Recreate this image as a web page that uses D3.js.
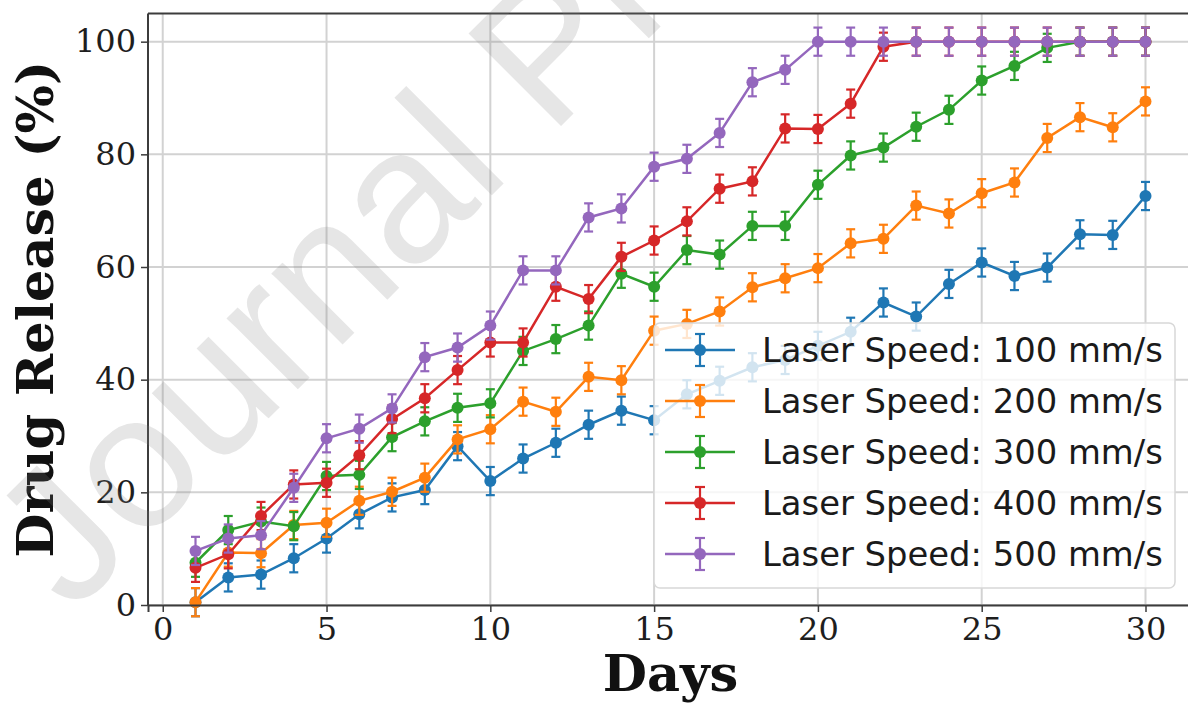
<!DOCTYPE html>
<html>
<head>
<meta charset="utf-8">
<script src="https://cdn.jsdelivr.net/npm/d3@7"></script>
<style>
  body { margin: 0; background: #fff; }
</style>
</head>
<body>
<script>
// chart data
var days = d3.range(1, 31);
var speeds = ['Laser Speed: 100 mm/s', 'Laser Speed: 200 mm/s', 'Laser Speed: 300 mm/s', 'Laser Speed: 400 mm/s', 'Laser Speed: 500 mm/s'];
var colors = ['#1f77b4', '#ff7f0e', '#2ca02c', '#d62728', '#9467bd'];

var speed100 = [0.5, 4.9, 5.4, 8.3, 11.8, 16.1, 19.1, 20.4, 28.2, 22.0, 26.0, 28.8, 32.0, 34.5, 32.8,
    37.4, 39.8, 42.2, 43.5, 46.0, 48.5, 53.7, 51.2, 57.0, 60.8, 58.4, 59.9, 65.8, 65.7, 72.6];
var speed200 = [0.5, 9.3, 9.2, 14.2, 14.6, 18.5, 20.1, 22.6, 29.4, 31.2, 36.1, 34.3, 40.5, 39.9, 48.7,
    49.9, 52.1, 56.4, 58.0, 59.8, 64.2, 65.0, 70.9, 69.5, 73.1, 75.0, 82.9, 86.6, 84.8, 89.4];
var speed300 = [7.5, 13.3, 14.8, 14.0, 22.9, 23.1, 29.8, 32.6, 35.0, 35.8, 45.1, 47.2, 49.6, 58.8, 56.5,
    63.0, 62.2, 67.3, 67.3, 74.6, 79.8, 81.2, 84.9, 87.9, 93.1, 95.7, 98.9, 100, 100, 100];
var speed400 = [6.6, 9.0, 15.8, 21.4, 21.7, 26.6, 33.0, 36.7, 41.7, 46.6, 46.6, 56.5, 54.3, 61.8, 64.7,
    68.1, 73.9, 75.2, 84.6, 84.5, 89.0, 99.1, 100, 100, 100, 100, 100, 100, 100, 100];
var speed500 = [9.6, 11.8, 12.4, 20.8, 29.6, 31.3, 34.9, 44.0, 45.7, 49.6, 59.4, 59.4, 68.8, 70.4, 77.8,
    79.2, 83.8, 92.8, 95.0, 100, 100, 100, 100, 100, 100, 100, 100, 100, 100, 100];
var errors = [2.5, 2.5, 2.5, 2.5, 2.5];

var xTicks = [0, 5, 10, 15, 20, 25, 30];
var yTicks = [0, 20, 40, 60, 80, 100];

var series = [speed100, speed200, speed300, speed400, speed500];

var svg = d3.select('body').append('svg')
    .attr('width', 1188)
    .attr('height', 704);

svg.append('rect')
    .attr('width', 1188)
    .attr('height', 704)
    .attr('fill', 'white');

var plotLeft = 148, plotRight = 1193, plotTop = 13.5, plotBottom = 605;

var x = d3.scaleLinear().domain([-0.45, 31.45]).range([plotLeft, plotRight]);
var y = d3.scaleLinear().domain([0, 105]).range([plotBottom, plotTop]);

// grid
svg.append('g').selectAll('line')
    .data(xTicks)
    .join('line')
    .attr('x1', d => x(d))
    .attr('x2', d => x(d))
    .attr('y1', plotTop)
    .attr('y2', plotBottom)
    .attr('stroke', '#d2d2d2')
    .attr('stroke-width', 2);

svg.append('g').selectAll('line')
    .data(yTicks)
    .join('line')
    .attr('x1', plotLeft)
    .attr('x2', plotRight)
    .attr('y1', d => y(d))
    .attr('y2', d => y(d))
    .attr('stroke', '#d2d2d2')
    .attr('stroke-width', 2);

// series
var line = d3.line()
    .x((d, i) => x(days[i]))
    .y(d => y(d));

series.forEach(function(values, s) {
    var g = svg.append('g');
    var err = errors[s];

    g.append('path')
        .datum(values)
        .attr('d', line)
        .attr('fill', 'none')
        .attr('stroke', colors[s])
        .attr('stroke-width', 2.5);

    g.selectAll('.bar')
        .data(values)
        .join('line')
        .attr('x1', (d, i) => x(days[i]))
        .attr('x2', (d, i) => x(days[i]))
        .attr('y1', d => y(d - err))
        .attr('y2', d => y(d + err))
        .attr('stroke', colors[s])
        .attr('stroke-width', 2.2);

    g.selectAll('.capLow')
        .data(values)
        .join('line')
        .attr('x1', (d, i) => x(days[i]) - 4.5)
        .attr('x2', (d, i) => x(days[i]) + 4.5)
        .attr('y1', d => y(d - err))
        .attr('y2', d => y(d - err))
        .attr('stroke', colors[s])
        .attr('stroke-width', 2.2);

    g.selectAll('.capHigh')
        .data(values)
        .join('line')
        .attr('x1', (d, i) => x(days[i]) - 4.5)
        .attr('x2', (d, i) => x(days[i]) + 4.5)
        .attr('y1', d => y(d + err))
        .attr('y2', d => y(d + err))
        .attr('stroke', colors[s])
        .attr('stroke-width', 2.2);

    g.selectAll('circle')
        .data(values)
        .join('circle')
        .attr('cx', (d, i) => x(days[i]))
        .attr('cy', d => y(d))
        .attr('r', 6)
        .attr('fill', colors[s]);
});

// spines
svg.append('line')
    .attr('x1', plotLeft).attr('x2', plotLeft)
    .attr('y1', plotTop).attr('y2', plotBottom)
    .attr('stroke', '#3c3c3c').attr('stroke-width', 2);
svg.append('line')
    .attr('x1', plotLeft).attr('x2', plotRight)
    .attr('y1', plotTop).attr('y2', plotTop)
    .attr('stroke', '#3c3c3c').attr('stroke-width', 2);

// axes
var xAxis = svg.append('g')
    .attr('transform', 'translate(0,' + plotBottom + ')')
    .call(d3.axisBottom(x).tickValues(xTicks).tickSize(7).tickPadding(5).tickFormat(d3.format('d')));
xAxis.select('.domain').attr('stroke', '#3c3c3c').attr('stroke-width', 2);
xAxis.selectAll('.tick line').attr('stroke', '#3c3c3c').attr('stroke-width', 1.5);
xAxis.selectAll('text')
    .attr('font-family', 'DejaVu Serif')
    .attr('font-size', 32)
    .attr('fill', '#1e1e1e');

var yAxis = svg.append('g')
    .attr('transform', 'translate(' + plotLeft + ',0)')
    .call(d3.axisLeft(y).tickValues(yTicks).tickSize(7).tickPadding(5).tickFormat(d3.format('d')));
yAxis.select('.domain').remove();
yAxis.selectAll('.tick line').attr('stroke', '#3c3c3c').attr('stroke-width', 1.5);
yAxis.selectAll('text')
    .attr('font-family', 'DejaVu Serif')
    .attr('font-size', 32)
    .attr('fill', '#1e1e1e');

// axis titles
svg.append('text')
    .attr('x', (plotLeft + plotRight) / 2)
    .attr('y', 691)
    .attr('text-anchor', 'middle')
    .attr('font-family', 'DejaVu Serif')
    .attr('font-weight', 'bold')
    .attr('font-size', 51)
    .attr('fill', '#111')
    .text('Days');

svg.append('text')
    .attr('transform', 'translate(53,' + (plotTop + plotBottom) / 2 + ') rotate(-90)')
    .attr('text-anchor', 'middle')
    .attr('font-family', 'DejaVu Serif')
    .attr('font-weight', 'bold')
    .attr('font-size', 51)
    .attr('fill', '#111')
    .text('Drug Release (%)');

// legend
var legend = svg.append('g');
legend.append('rect')
    .attr('x', 654)
    .attr('y', 323)
    .attr('width', 521)
    .attr('height', 265)
    .attr('rx', 6)
    .attr('fill', 'white')
    .attr('fill-opacity', 0.8)
    .attr('stroke', '#d8d8d8')
    .attr('stroke-width', 1.5);

var rows = legend.selectAll('.row')
    .data(speeds)
    .join('g')
    .attr('transform', (d, i) => 'translate(0,' + (350 + i * 51) + ')');

rows.append('line')
    .attr('x1', 665).attr('x2', 735)
    .attr('stroke', (d, i) => colors[i])
    .attr('stroke-width', 2.5);
rows.append('line')
    .attr('x1', 700).attr('x2', 700)
    .attr('y1', -16).attr('y2', 16)
    .attr('stroke', (d, i) => colors[i])
    .attr('stroke-width', 2.2);
rows.append('line')
    .attr('x1', 695).attr('x2', 705)
    .attr('y1', -16).attr('y2', -16)
    .attr('stroke', (d, i) => colors[i])
    .attr('stroke-width', 2.2);
rows.append('line')
    .attr('x1', 695).attr('x2', 705)
    .attr('y1', 16).attr('y2', 16)
    .attr('stroke', (d, i) => colors[i])
    .attr('stroke-width', 2.2);
rows.append('circle')
    .attr('cx', 700)
    .attr('r', 6)
    .attr('fill', (d, i) => colors[i]);
rows.append('text')
    .attr('x', 762)
    .attr('dy', '0.36em')
    .attr('font-family', 'DejaVu Sans')
    .attr('font-size', 33.8)
    .attr('fill', '#1a1a1a')
    .text(d => d);

// watermark
svg.append('text')
    .attr('transform', 'translate(72,615) rotate(-45)')
    .attr('font-family', 'Liberation Sans')
    .attr('font-size', 190)
    .attr('fill', 'gray')
    .attr('fill-opacity', 0.2)
    .text('Journal Pre-proof');
</script>
</body>
</html>
